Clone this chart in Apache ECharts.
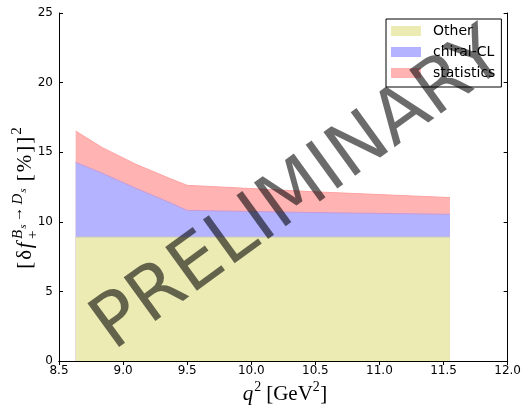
<!DOCTYPE html>
<html>
<head>
<meta charset="utf-8">
<script src="https://cdn.jsdelivr.net/npm/echarts@6/dist/echarts.min.js"></script>
<style>
  html, body { margin: 0; padding: 0; background: #fff; }
  #chart { width: 524px; height: 407px; }
</style>
</head>
<body>
<div id="chart"></div>
<script>
// q^2 sample points (GeV^2)
const q2 = [8.63, 8.84, 9.10, 9.36, 9.50, 10.50, 11.55];
// error-budget contributions, [%]^2 (each band sits on the ones before it)
const otherErr = [8.9, 8.9, 8.9, 8.9, 8.9, 8.9, 8.9];
const chiralErr = [5.37, 4.58, 3.51, 2.50, 1.92, 1.76, 1.64];
const statErr = [2.25, 1.84, 1.72, 1.73, 1.80, 1.49, 1.20];
const seriesNames = ['Other', 'chiral-CL', 'statistics'];
const xTicks = { min: 8.5, max: 12.0, step: 0.5 };
const yTicks = { min: 0, max: 25, step: 5 };

const fills = ['#ebebb3', '#b3b3ff', '#ffb3b3'];
const edges = ['#d2cfb8', '#c99bd9', '#ffa3a3'];

// running totals: top edge of each band
const bands = [otherErr, chiralErr, statErr];
const tops = [];
bands.forEach((b, k) => {
  tops.push(b.map((v, i) => v + (k ? tops[k - 1][i] : 0)));
});

const chart = echarts.init(document.getElementById('chart'), null, { renderer: 'canvas' });

// lay out a math-like label from pieces, measuring each with canvas
function mathPieces(pieces, family) {
  const ctx = document.createElement('canvas').getContext('2d');
  let x = 0, total = 0;
  const els = [];
  pieces.forEach(p => {
    const font = (p.italic ? 'italic ' : '') + p.size + 'px ' + family;
    ctx.font = font;
    const w = ctx.measureText(p.t).width;
    const px = x + (p.pre || 0);
    els.push({
      type: 'text',
      x: px,
      y: (p.dy || 0) - 0.3 * p.size,
      style: { text: p.t, font: font, fill: '#000', textAlign: 'left', textVerticalAlign: 'middle' }
    });
    if (!p.noAdvance) x = px + w + (p.gap || 0);
    total = Math.max(total, x);
  });
  return { els, width: total };
}

const fam = '"Liberation Serif", serif';
const yLab = [
  { t: '[', size: 21, gap: 2 },
  { t: 'δ', size: 21, gap: 1.5 },
  { t: 'f', size: 21, italic: true, gap: 3.5 },
  { t: '+', size: 15, dy: 6, noAdvance: true },
  { t: 'B', size: 15, italic: true, dy: -9, gap: 1 },
  { t: 's', size: 11, italic: true, dy: -6, gap: 2.5 },
  { t: '→', size: 15, dy: -9, gap: 2.5 },
  { t: 'D', size: 15, italic: true, dy: -9, gap: 1 },
  { t: 's', size: 11, italic: true, dy: -6, gap: 7 },
  { t: '[', size: 21, gap: 2 },
  { t: '%', size: 21, gap: 2 },
  { t: ']', size: 21, gap: 2 },
  { t: ']', size: 21, gap: 2 },
  { t: '2', size: 15, dy: -10 }
];
const yl = mathPieces(yLab, fam);

const xLab = [
  { t: 'q', size: 21, italic: true, gap: 1 },
  { t: '2', size: 14, dy: -9, gap: 5 },
  { t: '[GeV', size: 21 },
  { t: '2', size: 14, dy: -9, gap: 0.5 },
  { t: ']', size: 21 }
];
const xl = mathPieces(xLab, fam);

const gridBox = { left: 59, top: 13, right: 14, bottom: 46 };

const tickAxis = (extra) => Object.assign({
  type: 'value',
  axisLine: { show: true, lineStyle: { color: '#000', width: 1 } },
  axisTick: { show: true, inside: true, length: 4, lineStyle: { color: '#000' } },
  splitLine: { show: false }
}, extra);

const labelStyle = { color: '#000', fontSize: 12, fontFamily: '"DejaVu Sans", sans-serif' };

// each band is filled from the axis up to its running total; later bands are
// drawn underneath earlier ones so only the slice between totals shows
function bandSeries(idx) {
  return {
    name: seriesNames[idx],
    type: 'line',
    data: q2.map((x, i) => [x, tops[idx][i]]),
    showSymbol: false,
    symbol: 'none',
    color: fills[idx],
    lineStyle: { color: edges[idx], width: 1 },
    areaStyle: { color: fills[idx], opacity: 1, origin: 'start' },
    z: 10 - idx,
    silent: true
  };
}

const option = {
  animation: false,
  backgroundColor: '#fff',
  grid: Object.assign({ containLabel: false }, gridBox),
  xAxis: [
    tickAxis({
      min: xTicks.min, max: xTicks.max, interval: xTicks.step, position: 'bottom',
      axisLabel: Object.assign({ margin: 4, formatter: v => v.toFixed(1) }, labelStyle)
    }),
    tickAxis({
      min: xTicks.min, max: xTicks.max, interval: xTicks.step, position: 'top',
      axisLabel: { show: false }
    })
  ],
  yAxis: [
    tickAxis({
      min: yTicks.min, max: yTicks.max, interval: yTicks.step, position: 'left',
      axisLabel: Object.assign({ margin: 6 }, labelStyle)
    }),
    tickAxis({
      min: yTicks.min, max: yTicks.max, interval: yTicks.step, position: 'right',
      axisLabel: { show: false }
    })
  ],
  legend: {
    orient: 'vertical',
    left: 386,
    top: 19,
    padding: [5, 6, 7, 5],
    itemWidth: 30,
    itemHeight: 10,
    itemGap: 7,
    icon: 'rect',
    backgroundColor: '#fff',
    borderColor: '#000',
    borderWidth: 1,
    borderRadius: 0,
    itemStyle: { borderWidth: 0 },
    textStyle: { color: '#000', fontSize: 14, lineHeight: 14, fontFamily: '"DejaVu Sans", sans-serif', padding: [0, 0, 0, 7] },
    data: seriesNames.map((n, i) => ({ name: n, itemStyle: { color: fills[i] } })),
    z: 20
  },
  series: [bandSeries(0), bandSeries(1), bandSeries(2)],
  graphic: [
    {
      type: 'group',
      x: 32,
      y: 198 + yl.width / 2,
      rotation: Math.PI / 2,
      children: yl.els
    },
    {
      type: 'group',
      x: 285 - xl.width / 2,
      y: 401,
      children: xl.els
    },
    {
      type: 'text',
      x: 300,
      y: 192,
      rotation: 36 * Math.PI / 180,
      z: 100,
      style: {
        text: 'PRELIMINARY',
        font: '74px "DejaVu Sans", sans-serif',
        fill: 'rgba(0,0,0,0.58)',
        textAlign: 'center',
        textVerticalAlign: 'middle'
      }
    }
  ]
};

chart.setOption(option);
</script>
</body>
</html>
